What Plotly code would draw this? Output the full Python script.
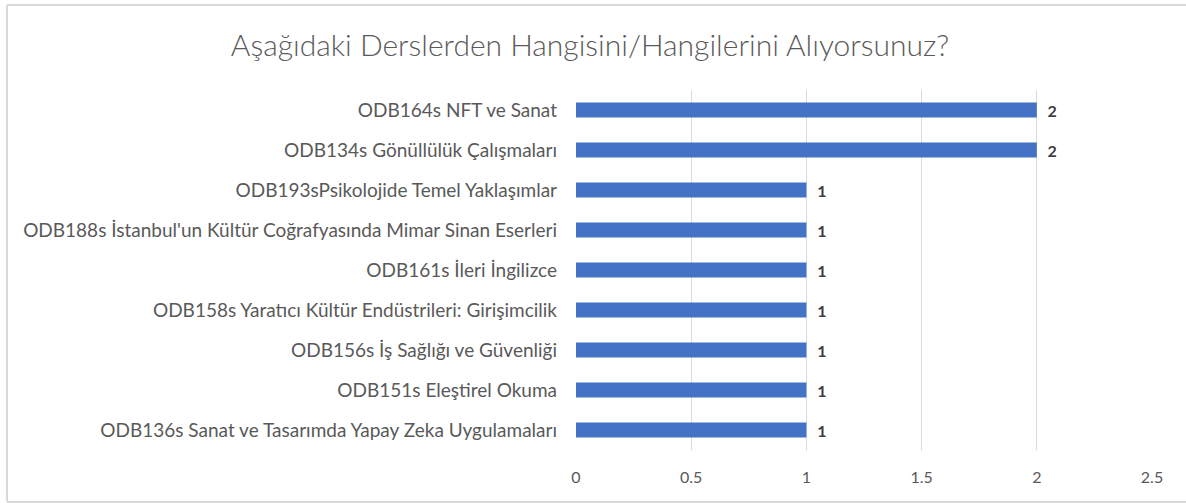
import plotly.graph_objects as go

courses = [
    "ODB164s NFT ve Sanat",
    "ODB134s Gönüllülük Çalışmaları",
    "ODB193sPsikolojide Temel Yaklaşımlar",
    "ODB188s İstanbul'un Kültür Coğrafyasında Mimar Sinan Eserleri",
    "ODB161s İleri İngilizce",
    "ODB158s Yaratıcı Kültür Endüstrileri: Girişimcilik",
    "ODB156s İş Sağlığı ve Güvenliği",
    "ODB151s Eleştirel Okuma",
    "ODB136s Sanat ve Tasarımda Yapay Zeka Uygulamaları",
]
counts = [2, 2, 1, 1, 1, 1, 1, 1, 1]
x_ticks = [0, 0.5, 1, 1.5, 2, 2.5]

font_family = "Lato, Open Sans, sans-serif"

fig = go.Figure(
    go.Bar(
        x=counts,
        y=courses,
        orientation="h",
        marker=dict(color="#4472c4", line=dict(width=0)),
        width=0.375,
        text=counts,
        texttemplate="  %{x}",
        textposition="outside",
        constraintext="none",
        textfont=dict(family=font_family, size=16, color="#404040", weight="bold"),
        cliponaxis=False,
        showlegend=False,
        hoverinfo="skip",
    )
)

# chart frame: left, top and bottom edges (right edge falls outside the picture)
left = (7 - 576) / 576
right = 1.5
top = 1 + (90 - 5) / 360
bottom = -(502 - 450) / 360
frame = dict(type="line", xref="paper", yref="paper", line=dict(color="#d9d9d9", width=2), layer="below")

fig.update_layout(
    width=1186,
    height=503,
    margin=dict(l=576, r=34, t=90, b=53),
    paper_bgcolor="white",
    plot_bgcolor="white",
    font=dict(family=font_family, color="#595959"),
    title=dict(
        text="Aşağıdaki Derslerden Hangisini/Hangilerini Alıyorsunuz?",
        x=0.4975,
        xanchor="center",
        y=1 - 45 / 503,
        yanchor="middle",
        font=dict(family=font_family, size=30, color="#595959", weight=300),
    ),
    shapes=[
        dict(frame, x0=left, x1=left, y0=bottom, y1=top),
        dict(frame, x0=left, x1=right, y0=top, y1=top),
        dict(frame, x0=left, x1=right, y0=bottom, y1=bottom),
    ],
)

fig.update_xaxes(
    range=[0, 2.5],
    tickvals=x_ticks,
    ticktext=[str(v) for v in x_ticks],
    showgrid=True,
    gridcolor="#d9d9d9",
    gridwidth=1,
    zeroline=False,
    showline=False,
    ticks="",
    ticklabelstandoff=16,
    tickfont=dict(family=font_family, size=16, color="#595959"),
)
fig.update_yaxes(
    autorange="reversed",
    showgrid=False,
    zeroline=False,
    showline=False,
    ticks="",
    ticklabelstandoff=18,
    tickfont=dict(family=font_family, size=19, color="#595959"),
)

fig.write_html(
    "out.html",
    config={"displayModeBar": False},
    post_script="document.body.style.margin='0';document.body.style.overflow='hidden';",
)
